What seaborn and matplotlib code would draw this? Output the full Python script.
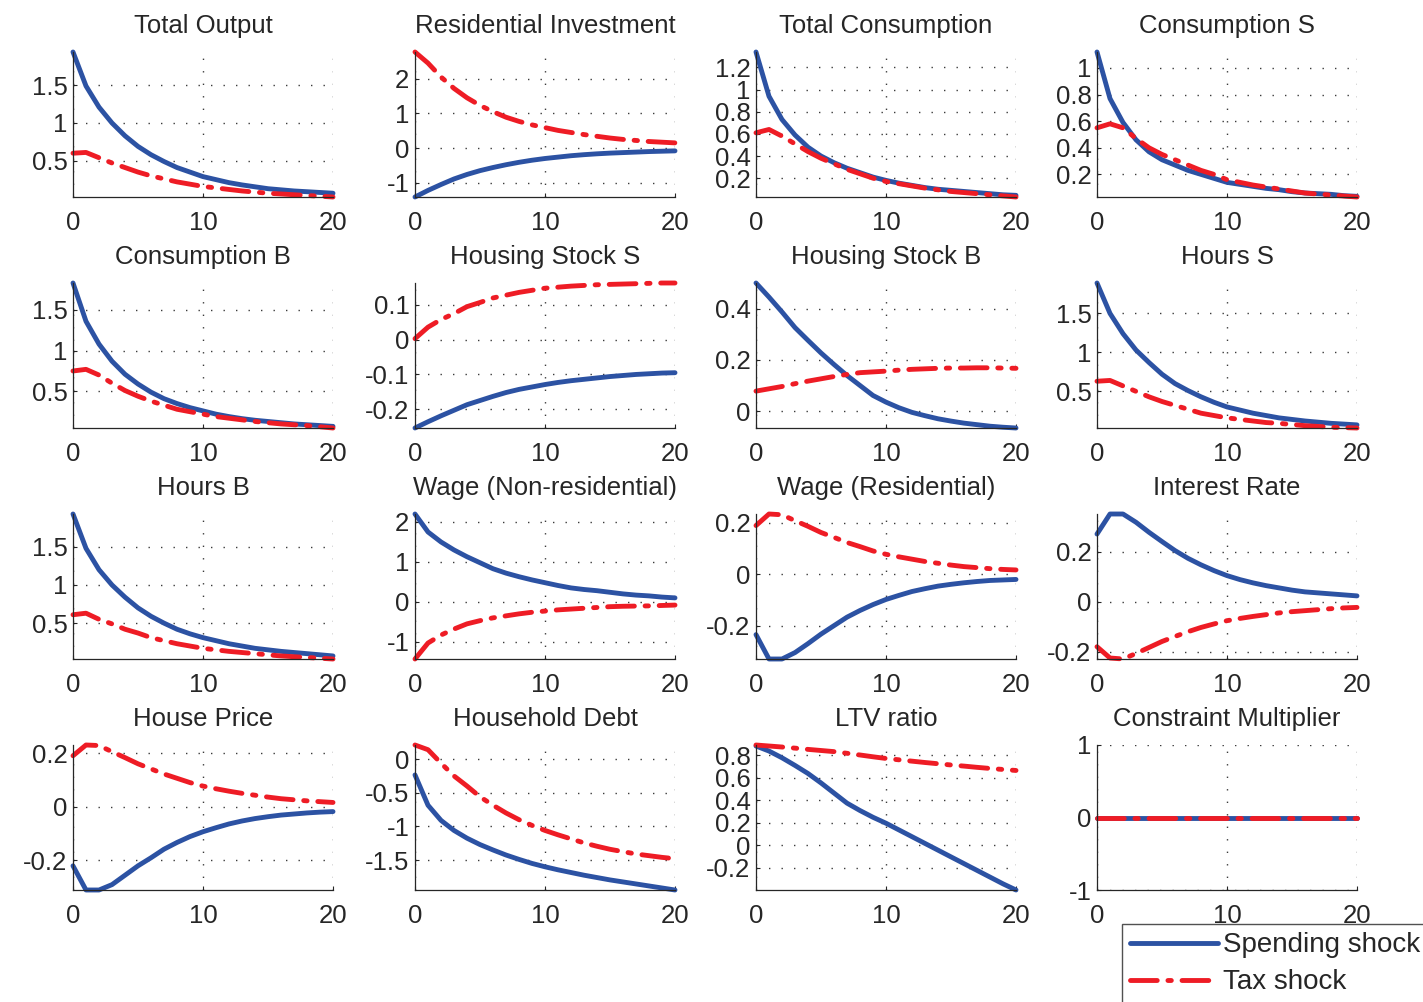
import numpy as np
import pandas as pd
import matplotlib
matplotlib.use("Agg")
import matplotlib.pyplot as plt
import seaborn as sns

# ---------------- data ----------------
periods = list(range(21))

titles = ["Total Output", "Residential Investment", "Total Consumption", "Consumption S",
          "Consumption B", "Housing Stock S", "Housing Stock B", "Hours S",
          "Hours B", "Wage (Non-residential)", "Wage (Residential)", "Interest Rate",
          "House Price", "Household Debt", "LTV ratio", "Constraint Multiplier"]

output_spend = [1.94, 1.49, 1.21, 1.00, 0.83, 0.69, 0.58, 0.49, 0.41, 0.35, 0.29, 0.25, 0.21, 0.18, 0.155, 0.13, 0.115, 0.10, 0.09, 0.08, 0.07]
output_tax = [0.60, 0.61, 0.54, 0.47, 0.41, 0.35, 0.30, 0.26, 0.22, 0.19, 0.16, 0.14, 0.12, 0.10, 0.085, 0.07, 0.06, 0.05, 0.04, 0.03, 0.02]

resinv_spend = [-1.41, -1.22, -1.05, -0.89, -0.76, -0.65, -0.56, -0.48, -0.41, -0.35, -0.30, -0.26, -0.22, -0.19, -0.165, -0.145, -0.13, -0.115, -0.10, -0.09, -0.08]
resinv_tax = [2.77, 2.45, 2.05, 1.72, 1.45, 1.23, 1.05, 0.89, 0.77, 0.67, 0.59, 0.51, 0.45, 0.39, 0.34, 0.29, 0.25, 0.22, 0.19, 0.17, 0.15]

cons_spend = [1.34, 0.94, 0.73, 0.59, 0.48, 0.40, 0.34, 0.29, 0.25, 0.21, 0.18, 0.155, 0.135, 0.115, 0.10, 0.09, 0.08, 0.07, 0.06, 0.05, 0.045]
cons_tax = [0.61, 0.64, 0.58, 0.51, 0.44, 0.38, 0.33, 0.28, 0.24, 0.20, 0.17, 0.15, 0.13, 0.11, 0.095, 0.08, 0.07, 0.06, 0.05, 0.04, 0.03]

consS_spend = [1.12, 0.77, 0.59, 0.46, 0.37, 0.31, 0.27, 0.23, 0.20, 0.17, 0.14, 0.125, 0.11, 0.095, 0.085, 0.07, 0.06, 0.055, 0.05, 0.04, 0.035]
consS_tax = [0.55, 0.58, 0.55, 0.47, 0.40, 0.35, 0.31, 0.27, 0.23, 0.20, 0.16, 0.14, 0.12, 0.105, 0.09, 0.075, 0.06, 0.052, 0.045, 0.037, 0.03]

consB_spend = [1.83, 1.36, 1.08, 0.87, 0.71, 0.59, 0.49, 0.41, 0.35, 0.30, 0.26, 0.22, 0.19, 0.165, 0.145, 0.13, 0.115, 0.10, 0.09, 0.08, 0.07]
consB_tax = [0.75, 0.77, 0.70, 0.60, 0.51, 0.44, 0.38, 0.33, 0.28, 0.25, 0.22, 0.19, 0.17, 0.15, 0.13, 0.115, 0.10, 0.09, 0.08, 0.065, 0.05]

hsS_spend = [-0.254, -0.236, -0.219, -0.203, -0.187, -0.175, -0.163, -0.152, -0.143, -0.136, -0.129, -0.123, -0.118, -0.114, -0.110, -0.106, -0.103, -0.100, -0.098, -0.096, -0.095]
hsS_tax = [0.003, 0.036, 0.058, 0.075, 0.095, 0.107, 0.120, 0.128, 0.136, 0.142, 0.148, 0.151, 0.154, 0.156, 0.158, 0.159, 0.160, 0.161, 0.162, 0.163, 0.163]

hsB_spend = [0.50, 0.445, 0.387, 0.326, 0.276, 0.227, 0.182, 0.139, 0.100, 0.061, 0.035, 0.013, -0.005, -0.018, -0.030, -0.039, -0.047, -0.053, -0.059, -0.063, -0.066]
hsB_tax = [0.078, 0.087, 0.096, 0.107, 0.117, 0.126, 0.135, 0.143, 0.150, 0.153, 0.156, 0.160, 0.163, 0.165, 0.167, 0.168, 0.168, 0.169, 0.169, 0.168, 0.167]

hoursS_spend = [1.89, 1.50, 1.24, 1.03, 0.87, 0.72, 0.60, 0.51, 0.43, 0.36, 0.30, 0.26, 0.22, 0.19, 0.16, 0.14, 0.12, 0.105, 0.09, 0.08, 0.07]
hoursS_tax = [0.63, 0.64, 0.57, 0.50, 0.43, 0.37, 0.32, 0.27, 0.22, 0.19, 0.16, 0.14, 0.12, 0.10, 0.09, 0.075, 0.06, 0.05, 0.04, 0.035, 0.03]

hoursB_spend = [1.93, 1.48, 1.20, 1.00, 0.84, 0.70, 0.59, 0.50, 0.42, 0.36, 0.31, 0.27, 0.23, 0.20, 0.17, 0.15, 0.13, 0.115, 0.10, 0.085, 0.07]
hoursB_tax = [0.61, 0.63, 0.55, 0.49, 0.42, 0.37, 0.31, 0.27, 0.23, 0.20, 0.17, 0.15, 0.13, 0.115, 0.10, 0.085, 0.07, 0.06, 0.05, 0.04, 0.03]

wageN_spend = [2.20, 1.75, 1.50, 1.30, 1.13, 0.98, 0.83, 0.72, 0.63, 0.55, 0.48, 0.41, 0.35, 0.31, 0.28, 0.24, 0.20, 0.17, 0.15, 0.12, 0.10]
wageN_tax = [-1.43, -1.03, -0.83, -0.68, -0.55, -0.47, -0.40, -0.35, -0.30, -0.26, -0.23, -0.20, -0.18, -0.16, -0.14, -0.12, -0.11, -0.105, -0.10, -0.09, -0.08]

wageR_spend = [-0.235, -0.33, -0.33, -0.305, -0.27, -0.233, -0.200, -0.167, -0.141, -0.118, -0.098, -0.082, -0.067, -0.056, -0.046, -0.039, -0.033, -0.028, -0.024, -0.022, -0.020]
wageR_tax = [0.19, 0.235, 0.232, 0.209, 0.187, 0.163, 0.144, 0.124, 0.108, 0.091, 0.078, 0.068, 0.059, 0.050, 0.043, 0.036, 0.030, 0.026, 0.022, 0.019, 0.017]

rate_spend = [0.27, 0.35, 0.35, 0.317, 0.277, 0.240, 0.204, 0.173, 0.147, 0.124, 0.104, 0.088, 0.075, 0.064, 0.055, 0.046, 0.039, 0.035, 0.031, 0.027, 0.023]
rate_tax = [-0.18, -0.225, -0.229, -0.207, -0.183, -0.159, -0.139, -0.120, -0.103, -0.089, -0.076, -0.067, -0.059, -0.052, -0.045, -0.040, -0.036, -0.032, -0.028, -0.025, -0.023]

price_spend = [-0.22, -0.31, -0.31, -0.29, -0.255, -0.22, -0.19, -0.158, -0.133, -0.111, -0.093, -0.078, -0.064, -0.053, -0.044, -0.037, -0.031, -0.027, -0.023, -0.020, -0.018]
price_tax = [0.19, 0.23, 0.228, 0.205, 0.183, 0.160, 0.141, 0.122, 0.106, 0.090, 0.077, 0.067, 0.058, 0.050, 0.043, 0.036, 0.030, 0.026, 0.022, 0.019, 0.016]

debt_spend = [-0.235, -0.685, -0.91, -1.06, -1.175, -1.27, -1.35, -1.425, -1.49, -1.55, -1.60, -1.645, -1.685, -1.725, -1.76, -1.795, -1.825, -1.855, -1.885, -1.915, -1.945]
debt_tax = [0.21, 0.14, -0.06, -0.25, -0.40, -0.56, -0.685, -0.80, -0.90, -0.985, -1.06, -1.125, -1.185, -1.245, -1.295, -1.34, -1.375, -1.41, -1.435, -1.46, -1.48]

ltv_spend = [0.883, 0.838, 0.778, 0.71, 0.638, 0.554, 0.464, 0.374, 0.308, 0.248, 0.195, 0.135, 0.075, 0.015, -0.045, -0.105, -0.165, -0.225, -0.285, -0.345, -0.40]
ltv_tax = [0.892, 0.883, 0.874, 0.864, 0.853, 0.843, 0.833, 0.818, 0.803, 0.787, 0.772, 0.760, 0.748, 0.736, 0.725, 0.714, 0.704, 0.693, 0.683, 0.674, 0.665]

mult_spend = [0.0] * 21
mult_tax = [0.0] * 21

spend_series = [output_spend, resinv_spend, cons_spend, consS_spend, consB_spend, hsS_spend,
                hsB_spend, hoursS_spend, hoursB_spend, wageN_spend, wageR_spend, rate_spend,
                price_spend, debt_spend, ltv_spend, mult_spend]
tax_series = [output_tax, resinv_tax, cons_tax, consS_tax, consB_tax, hsS_tax,
              hsB_tax, hoursS_tax, hoursB_tax, wageN_tax, wageR_tax, rate_tax,
              price_tax, debt_tax, ltv_tax, mult_tax]

yticks = [[0.5, 1, 1.5], [-1, 0, 1, 2], [0.2, 0.4, 0.6, 0.8, 1.0, 1.2], [0.2, 0.4, 0.6, 0.8, 1.0],
          [0.5, 1, 1.5], [-0.2, -0.1, 0, 0.1], [0, 0.2, 0.4], [0.5, 1, 1.5],
          [0.5, 1, 1.5], [-1, 0, 1, 2], [-0.2, 0, 0.2], [-0.2, 0, 0.2],
          [-0.2, 0, 0.2], [-1.5, -1, -0.5, 0], [-0.2, 0, 0.2, 0.4, 0.6, 0.8], [-1, 0, 1]]
xticks = [0, 10, 20]
legend_labels = ["Spending shock", "Tax shock"]

# ---------------- style ----------------
sns.set_style("ticks")
plt.rcParams["font.family"] = ["Liberation Sans", "DejaVu Sans"]
plt.rcParams["axes.unicode_minus"] = False

BLUE = "#2c52a3"
RED = "#ee1c25"
TXT = "#262626"
LW = 3.5
DASHDOT = (0, (5.5, 2.2, 0.7, 2.2))

W, H = 1423, 1002
fig = plt.figure(figsize=(W / 100, H / 100), dpi=100)

col_left = [73, 415, 756, 1097]
row_top = [52, 283, 514, 745]
ax_w, ax_h = 260, 145

for i in range(16):
    r, c = divmod(i, 4)
    ax = fig.add_axes([col_left[c] / W, 1 - (row_top[r] + ax_h) / H, ax_w / W, ax_h / H])
    sns.lineplot(x=periods, y=spend_series[i], ax=ax, color=BLUE, lw=LW,
                 solid_capstyle="round", label=legend_labels[0], legend=False)
    sns.lineplot(x=periods, y=tax_series[i], ax=ax, color=RED, lw=LW, linestyle=DASHDOT,
                 dash_capstyle="round", label=legend_labels[1], legend=False)
    ax.set_xlim(0, 20)
    if i == 15:
        ax.set_ylim(-1, 1)
    else:
        lo = min(min(spend_series[i]), min(tax_series[i]))
        hi = max(max(spend_series[i]), max(tax_series[i]))
        ax.set_ylim(lo, hi)
    ax.set_xticks(xticks)
    ax.set_xticklabels([f"{t:g}" for t in xticks])
    ax.set_yticks(yticks[i])
    ax.set_yticklabels([f"{t:g}" for t in yticks[i]])
    ax.grid(True, linestyle=(0, (1, 8)), color=TXT, lw=1.0, alpha=0.9)
    ax.set_axisbelow(True)
    for s in ["top", "right"]:
        ax.spines[s].set_visible(False)
    for s in ["left", "bottom"]:
        ax.spines[s].set_color(TXT)
        ax.spines[s].set_linewidth(0.9)
    ax.tick_params(direction="in", length=3, width=0.8, colors=TXT, labelsize=18.5,
                   labelcolor=TXT)
    ax.tick_params(axis="x", pad=10)
    ax.tick_params(axis="y", pad=4)
    ax.set_title(titles[i], fontsize=18.5, color=TXT, pad=14)
    ax.set_xlabel("")
    ax.set_ylabel("")
    for line in ax.lines:
        line.set_clip_on(False)
    if i == 15:
        handles, labels = ax.get_legend_handles_labels()

leg = fig.legend(handles, labels, loc="upper left",
                 bbox_to_anchor=(1122 / W, 1 - 924 / H), bbox_transform=fig.transFigure,
                 fontsize=20, frameon=True, fancybox=False, edgecolor=TXT,
                 handlelength=3.15, handletextpad=0.2, labelspacing=0.4,
                 borderpad=0.3, borderaxespad=0)
leg.get_frame().set_linewidth(1.0)
for t in leg.get_texts():
    t.set_color(TXT)

fig.savefig("out.png", dpi=100)
